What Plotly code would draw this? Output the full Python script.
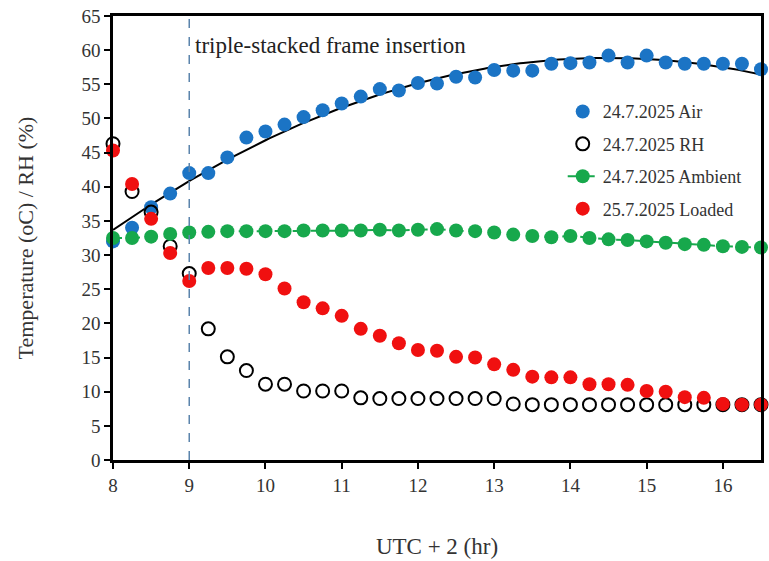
import numpy as np
import plotly.graph_objects as go

hours = [8 + 0.25 * i for i in range(35)]

air = [32, 34, 37, 39, 42, 42, 44.3, 47.2, 48.1, 49.1, 50.2, 51.2, 52.2, 53.2, 54.3, 54.1,
       55.2, 55.1, 56.1, 56, 57.1, 57, 57, 58, 58.1, 58.2, 59.2, 58.2, 59.2, 58.2, 58, 58,
       58, 58, 57.2]
rh = [46.3, 39.3, 36.3, 31.3, 27.3, 19.2, 15.1, 13.1, 11.1, 11.1, 10.1, 10.1, 10.1, 9.1, 9, 9,
      9, 9, 9, 9, 9, 8.2, 8.1, 8.1, 8.1, 8.1, 8.1, 8.1, 8.1, 8.1, 8.1, 8.1, 8.1, 8.1, 8.1]
ambient = [32.5, 32.5, 32.7, 33.1, 33.3, 33.4, 33.5, 33.5, 33.5, 33.5, 33.6, 33.6, 33.6, 33.6,
           33.7, 33.6, 33.7, 33.8, 33.6, 33.5, 33.3, 33.0, 32.8, 32.6, 32.8, 32.5, 32.3, 32.2,
           32.0, 31.8, 31.6, 31.5, 31.3, 31.2, 31.1]
loaded = [45.3, 40.4, 35.3, 30.3, 26.2, 28.1, 28.1, 28, 27.2, 25.1, 23.1, 22.2, 21.1, 19.2,
          18.2, 17.1, 16.1, 16, 15.1, 15, 14, 13.2, 12.2, 12.1, 12.1, 11.1, 11.1, 11, 10.1, 10,
          9.2, 9.1, 8.2, 8.1, 8.1]

x_ticks = [8, 9, 10, 11, 12, 13, 14, 15, 16]
y_ticks = list(range(0, 66, 5))
insertion_hour = 9
annotation_text = "triple-stacked frame insertion"

# quadratic trendline of the air temperature
coef = np.polyfit(hours, air, 2)
fit_x = np.linspace(8, 16.5, 200)
fit_y = np.polyval(coef, fit_x)

serif = "Liberation Serif, Times New Roman, DejaVu Serif, serif"
fig = go.Figure()

fig.add_trace(go.Scatter(x=fit_x, y=fit_y, mode="lines", line=dict(color="black", width=2),
                         showlegend=False, hoverinfo="skip"))
fig.add_trace(go.Scatter(x=hours, y=air, mode="markers", name="24.7.2025 Air",
                         legendgroup="a",
                         marker=dict(color="#1B74C5", size=14), cliponaxis=False))
fig.add_trace(go.Scatter(x=hours, y=rh, mode="markers", name="24.7.2025 RH",
                         legendgroup="b",
                         marker=dict(symbol="circle-open", color="black", size=13,
                                     line=dict(width=2)), cliponaxis=False))
fig.add_trace(go.Scatter(x=hours, y=ambient, mode="lines+markers", name="24.7.2025 Ambient",
                         legendgroup="c",
                         line=dict(color="#17A84C", width=2, dash="dash"),
                         marker=dict(color="#17A84C", size=14), cliponaxis=False))
fig.add_trace(go.Scatter(x=hours, y=loaded, mode="markers", name="25.7.2025 Loaded",
                         legendgroup="d",
                         marker=dict(color="#F01010", size=14), cliponaxis=False))

fig.add_shape(type="line", x0=insertion_hour, x1=insertion_hour, y0=0, y1=1, yref="paper",
              line=dict(color="#5B84AC", width=1.5, dash="dash"))
fig.add_annotation(x=insertion_hour, y=60.7, xanchor="left", xshift=4, text=annotation_text,
                   showarrow=False, font=dict(family=serif, size=23, color="#222"))

fig.update_layout(
    width=769, height=561,
    margin=dict(l=113, r=8, t=16, b=101),
    paper_bgcolor="white", plot_bgcolor="white",
    font=dict(family=serif, color="#333"),
    showlegend=True,
    legend=dict(x=0.694, y=0.826, xanchor="left", yanchor="top", bgcolor="rgba(0,0,0,0)",
                font=dict(family=serif, size=18, color="#333"), tracegroupgap=6,
                itemwidth=30),
)
fig.update_xaxes(range=[8, 16.5], tickvals=x_ticks, ticks="outside", ticklen=6, tickwidth=2,
                 tickcolor="black", showline=True, linecolor="black", linewidth=2.5, mirror=True,
                 showgrid=False, zeroline=False, automargin=False,
                 tickfont=dict(family=serif, size=19, color="#333"),
                 title=dict(text="UTC + 2 (hr)", font=dict(family=serif, size=23, color="#333"),
                            standoff=44))
fig.update_yaxes(range=[0, 65], tickvals=y_ticks, ticks="outside", ticklen=6, tickwidth=2,
                 tickcolor="black", showline=True, linecolor="black", linewidth=2.5, mirror=True,
                 showgrid=False, zeroline=False, automargin=False,
                 tickfont=dict(family=serif, size=19, color="#333"),
                 title=dict(text="Temperature (oC) / RH (%)",
                            font=dict(family=serif, size=22, color="#333"), standoff=42))

fig.write_html("out.html", config={"displayModeBar": False},
               post_script="document.body.style.margin='0';")
